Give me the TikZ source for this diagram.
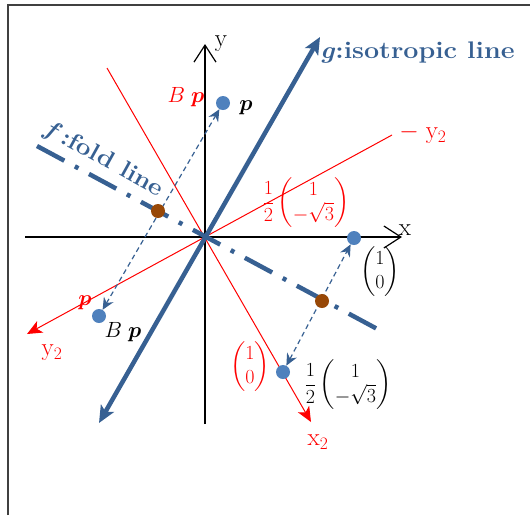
\documentclass[tikz,border=0pt]{standalone}
\usepackage{fix-cm}
\usepackage{amsmath}
\usetikzlibrary{arrows.meta}
\definecolor{steel}{RGB}{55,96,146}
\definecolor{dotblue}{RGB}{79,129,189}
\definecolor{brownd}{RGB}{152,72,7}
\pgfdeclarelayer{bg}
\pgfsetlayers{bg,main}
\begin{document}
\begin{tikzpicture}[x=1pt,y=-1pt,
  bdot/.style={circle,fill=dotblue,minimum size=14pt,inner sep=0pt},
  brdot/.style={circle,fill=brownd,minimum size=14pt,inner sep=0pt},
  frameline/.style={draw=black!75,line width=1.2pt},
  axis/.style={black,line width=1.2pt,-{Straight Barb[length=17pt,width=22pt]}},
  redaxis/.style={red,line width=1pt,-{Stealth[length=15pt,width=13pt,inset=4pt]}},
  gline/.style={steel,line width=4.5pt,{Stealth[length=17pt,width=15pt,inset=4pt]}-{Stealth[length=17pt,width=15pt,inset=4pt]}},
  foldline/.style={steel,line width=4.5pt,dash pattern=on 31pt off 12pt on 4pt off 12pt},
  darr/.style={steel,line width=1.2pt,dash pattern=on 5pt off 3.5pt,{Stealth[length=12pt,width=11pt,inset=4pt]}-{Stealth[length=12pt,width=11pt,inset=4pt]}},
  lab/.style={inner sep=0pt,font=\fontsize{20}{24}\selectfont},
  plab/.style={inner sep=0pt,font=\fontsize{22}{26}\selectfont},
  axlab/.style={inner sep=0pt,font=\fontsize{25}{30}\selectfont},
  biglab/.style={inner sep=0pt,text=steel,font=\fontsize{24}{28}\selectfont\bfseries}
]
\useasboundingbox (0,0) rectangle (530,515);

% dots
\node[bdot] (p) at (223,103) {};
\node[bdot] (bp) at (99,316) {};
\node[bdot] (e1) at (354,238) {};
\node[bdot] (be1) at (283,372) {};
\node[brdot] (m1) at (158,211) {};
\node[brdot] (m2) at (322,301) {};

\begin{pgfonlayer}{bg}
  \coordinate (fr1) at (8,515);
  \coordinate (fr2) at (8,5);
  \coordinate (fr3) at (530,5);
  \draw[frameline] (fr1) -- (fr2) -- (fr3);
  % axes
  \coordinate (xl) at (25,237);
  \coordinate (xr) at (402,237);
  \draw[axis] (xl) -- (xr);
  \coordinate (yb) at (205,424);
  \coordinate (yt) at (205,44);
  \draw[axis] (yb) -- (yt);
  % red axes
  \coordinate (y2a) at (392,135);
  \coordinate (y2b) at (27,334);
  \draw[redaxis] (y2a) -- (y2b);
  \coordinate (x2a) at (107,68);
  \coordinate (x2b) at (311,422);
  \draw[redaxis] (x2a) -- (x2b);
  % fold line
  \coordinate (fa) at (37,146);
  \coordinate (fb) at (381,331);
  \draw[foldline] (fa) -- (fb);
  % isotropic line
  \coordinate (ga) at (99,423);
  \coordinate (gb) at (320,37);
  \draw[gline] (ga) -- (gb);
  % reflections
  \draw[darr] (bp) -- (p);
  \draw[darr] (be1) -- (e1);
\end{pgfonlayer}

% labels
\node[plab,red] (bplab) at (186,97) {$B\;\boldsymbol{p}$};
\node[plab] (plab) at (246,108) {$\boldsymbol{p}$};
\node[axlab] (ylab) at (221,44) {y};
\node[axlab] (xlab) at (405,230) {x};
\node[axlab,red] (my2) at (423,134) {$-\;\mathrm{y}_2$};
\node[axlab,red] (y2lab) at (52,353) {$\mathrm{y}_2$};
\node[axlab,red] (x2lab) at (318,442) {$\mathrm{x}_2$};
\node[lab,red] (frac1) at (306,203) {$\dfrac{1}{2}\begin{pmatrix}1\\-\sqrt{3}\end{pmatrix}$};
\node[lab] (col1) at (380,272) {$\begin{pmatrix}1\\0\end{pmatrix}$};
\node[lab,red] (col2) at (250,367) {$\begin{pmatrix}1\\0\end{pmatrix}$};
\node[lab] (frac2) at (348,385) {$\dfrac{1}{2}\begin{pmatrix}1\\-\sqrt{3}\end{pmatrix}$};
\node[plab,red] (plab2) at (85,303) {$\boldsymbol{p}$};
\node[plab] (bplab2) at (123,332) {$B\;\boldsymbol{p}$};
\node[biglab,anchor=west] (glab) at (320,53) {\scalebox{1.12}[1]{\textit{g}:isotropic line}};
\node[biglab,rotate=-29] (flab) at (104,160) {\scalebox{1.1}[1]{\textit{f}\,:fold line}};
\end{tikzpicture}
\end{document}
